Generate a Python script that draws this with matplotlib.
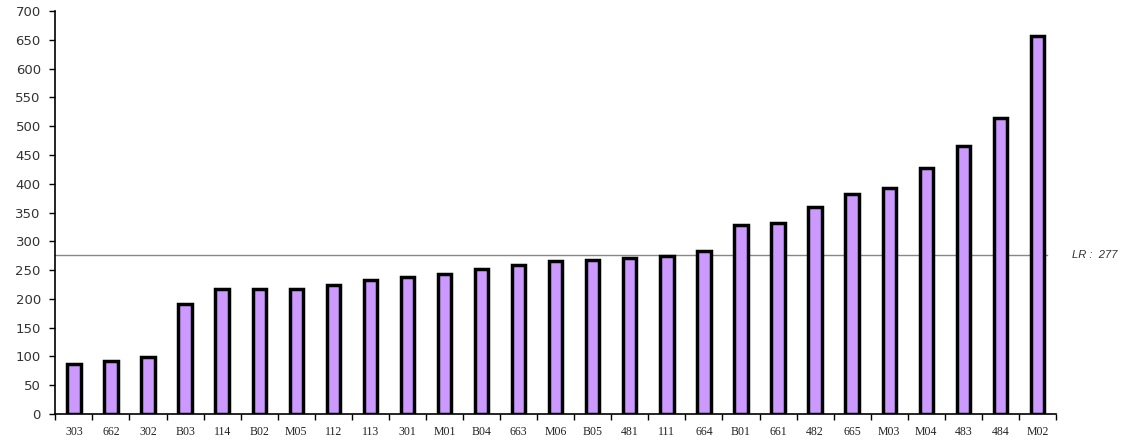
import matplotlib.pyplot as plt
import numpy as np

categories = ['303', '662', '302', 'B03', '114', 'B02', 'M05', '112', '113', '301',
              'M01', 'B04', '663', 'M06', 'B05', '481', '111', '664', 'B01', '661',
              '482', '665', 'M03', 'M04', '483', '484', 'M02']
values = [86, 92, 99, 191, 218, 218, 218, 224, 233, 238,
          244, 252, 258, 265, 268, 271, 274, 284, 329, 332,
          359, 383, 393, 428, 465, 515, 657]
lr_value = 277
yticks = list(range(0, 701, 50))

fig = plt.figure(figsize=(11.3, 4.43), dpi=100)
ax = fig.add_axes([0.049, 0.0655, 0.8855, 0.9095])

x = np.arange(len(categories))
ax.bar(x, values, width=0.36, color='#cc99ff', edgecolor='black', linewidth=2.5, zorder=3)

# LR reference line, stops just past the last bar
n = len(categories)
ax.plot([-0.5, n - 1 + 0.25], [lr_value, lr_value], color='#888888',
        linewidth=1.0, clip_on=False, zorder=2)
ax.text(n - 1 + 0.93, lr_value, 'LR :  %d' % lr_value, fontstyle='italic',
        fontsize=8, family='Liberation Sans', color='#333333', va='center', ha='left')

ax.set_xlim(-0.5, n - 0.5)
ax.set_ylim(0, 700)
ax.set_yticks(yticks)
ax.set_yticklabels([str(v) for v in yticks], fontsize=9.5, family='DejaVu Sans', color='#333333')

ax.set_xticks(x)
ax.set_xticklabels(categories, fontsize=8.5, family='Liberation Serif', color='#222222')
ax.set_xticks(np.arange(-0.5, n, 1.0), minor=True)
ax.tick_params(axis='x', which='major', length=0, pad=9)
ax.tick_params(axis='x', which='minor', length=4, width=1, direction='out')
ax.tick_params(axis='y', length=4.5, width=1, direction='out', pad=6)

for s in ['top', 'right']:
    ax.spines[s].set_visible(False)
ax.spines['left'].set_linewidth(1.2)
ax.spines['bottom'].set_linewidth(1.2)

fig.savefig('out.png', dpi=100)
